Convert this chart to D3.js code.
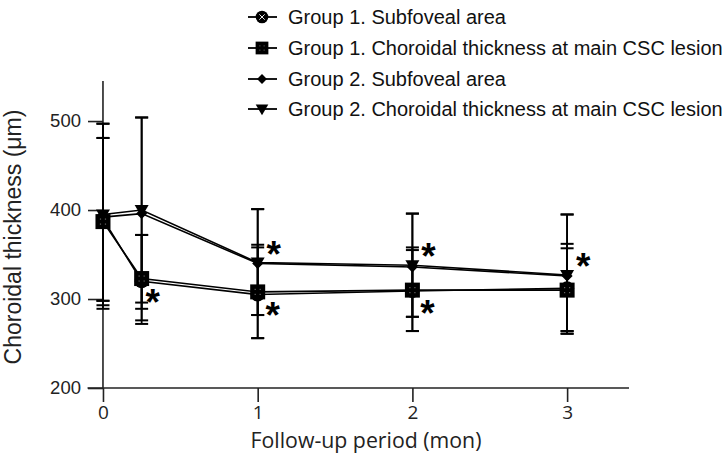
<!DOCTYPE html>
<html>
<head>
<meta charset="utf-8">
<script src="https://cdn.jsdelivr.net/npm/d3@7"></script>
<style>
  html, body { margin: 0; padding: 0; background: #fff; }
  svg { display: block; }
</style>
</head>
<body>
<div id="chart"></div>
<script>
// ---------- data ----------
const xVals = [0, 0.25, 1, 2, 3];
const xTickValues = [0, 1, 2, 3];
const yTickValues = [200, 300, 400, 500];

const seriesNames = [
  "Group 1. Subfoveal area",
  "Group 1. Choroidal thickness at main CSC lesion",
  "Group 2. Subfoveal area",
  "Group 2. Choroidal thickness at main CSC lesion"
];
const g1Subfoveal      = [390, 320, 305, 309, 312];
const g1SubfovealUpper = [481, 372, 361, 355, 362];
const g1SubfovealLower = [298, 276, 256, 264, 264];

const g1Lesion      = [387, 323, 308, 310, 310];
const g1LesionUpper = [481, 372, 358, 358, 357];
const g1LesionLower = [298, 272, 256, 264, 261];

const g2Subfoveal      = [392, 396, 340, 336, 326];
const g2SubfovealUpper = [497, 504, 401, 396, 395];
const g2SubfovealLower = [289, 289, 282, 280, 261];

const g2Lesion      = [395, 400, 341, 338, 327];
const g2LesionUpper = [497, 504, 401, 396, 395];
const g2LesionLower = [293, 296, 282, 280, 264];

// significance marks (x positions) for group 1 (below) and group 2 (above)
const asteriskGroup1 = [0.25, 1, 2];
const asteriskGroup2 = [1, 2, 3];

const xLabel = "Follow-up period (mon)";
const yLabel = "Choroidal thickness (μm)";

// ---------- layout ----------
const W = 728, H = 461;
const svg = d3.select("#chart").append("svg").attr("width", W).attr("height", H);

const x = d3.scaleLinear().domain([-0.1, 3.4]).range([87.5, 629]);
const y = d3.scaleLinear().domain([200, 545]).range([388, 81]);

const series = [
  { name: seriesNames[0], mean: g1Subfoveal, up: g1SubfovealUpper, lo: g1SubfovealLower, marker: "circleX" },
  { name: seriesNames[1], mean: g1Lesion, up: g1LesionUpper, lo: g1LesionLower, marker: "squareDots" },
  { name: seriesNames[2], mean: g2Subfoveal, up: g2SubfovealUpper, lo: g2SubfovealLower, marker: "diamond" },
  { name: seriesNames[3], mean: g2Lesion, up: g2LesionUpper, lo: g2LesionLower, marker: "triangleDown" }
];

// ---------- axes ----------
const xAxis = d3.axisBottom(x).tickValues(xTickValues).tickSize(14).tickPadding(4).tickFormat(d3.format("d"));
const gx = svg.append("g").attr("transform", `translate(0,${y(200)})`).call(xAxis);
gx.select(".domain").attr("d", `M${x.range()[0]},0H${x.range()[1]}`).attr("stroke", "#222").attr("stroke-width", 1.6);
gx.selectAll(".tick line").attr("stroke", "#222").attr("stroke-width", 1.6);
gx.selectAll(".tick text").attr("font-family", "'Open Sans', sans-serif").attr("font-size", 19).attr("fill", "#222");

const yAxis = d3.axisLeft(y).tickValues(yTickValues).tickSize(15).tickPadding(7);
const gy = svg.append("g").attr("transform", `translate(${x(0)},0)`).call(yAxis);
gy.select(".domain").attr("d", `M0,${y.range()[0]}V${y.range()[1]}`).attr("stroke", "#222").attr("stroke-width", 1.6);
gy.selectAll(".tick line").attr("stroke", "#222").attr("stroke-width", 1.6);
gy.selectAll(".tick text").attr("font-family", "'Liberation Sans', Arial, sans-serif").attr("font-size", 18.5).attr("fill", "#222");

svg.append("text")
  .attr("x", 366).attr("y", 448)
  .attr("text-anchor", "middle")
  .attr("font-family", "'Open Sans', sans-serif").attr("font-size", 21.3).attr("fill", "#222")
  .text(xLabel);

svg.append("text")
  .attr("transform", `translate(21,237) rotate(-90)`)
  .attr("text-anchor", "middle")
  .attr("font-family", "'Liberation Sans', Arial, sans-serif").attr("font-size", 23).attr("fill", "#222")
  .text(yLabel);

// ---------- markers ----------
function drawMarker(g, type, cx, cy, scale) {
  const s = scale || 1;
  const m = g.append("g").attr("transform", `translate(${cx},${cy}) scale(${s})`);
  if (type === "circleX") {
    m.append("circle").attr("r", 7).attr("fill", "#000");
    m.append("path").attr("d", "M-3,-3L3,3M-3,3L3,-3").attr("stroke", "#fff").attr("stroke-width", 1);
  } else if (type === "squareDots") {
    m.append("rect").attr("x", -7.5).attr("y", -7.5).attr("width", 15).attr("height", 15).attr("fill", "#000");
    [[-2.5,-2.5],[2.5,-2.5],[-2.5,2.5],[2.5,2.5]].forEach(p =>
      m.append("rect").attr("x", p[0]-0.6).attr("y", p[1]-0.6).attr("width", 1.2).attr("height", 1.2).attr("fill", "#666"));
  } else if (type === "diamond") {
    m.append("path").attr("d", "M0,-5.5L5.5,0L0,5.5L-5.5,0Z").attr("fill", "#000");
  } else if (type === "triangleDown") {
    m.append("path").attr("d", "M-7,-5L7,-5L0,7Z").attr("fill", "#000");
  }
}

const plot = svg.append("g");
const line = d3.line().x((d, i) => x(xVals[i])).y(d => y(d));

// lines
series.forEach(s => {
  plot.append("path").attr("d", line(s.mean)).attr("fill", "none")
    .attr("stroke", "#000").attr("stroke-width", 1.6);
});

// error bars
const capHalf = 6.5;
series.forEach(s => {
  xVals.forEach((xv, i) => {
    const cx = x(xv);
    plot.append("line").attr("x1", cx).attr("x2", cx).attr("y1", y(s.lo[i])).attr("y2", y(s.up[i]))
      .attr("stroke", "#000").attr("stroke-width", 1.8);
    [s.lo[i], s.up[i]].forEach(v => {
      plot.append("line").attr("x1", cx - capHalf).attr("x2", cx + capHalf).attr("y1", y(v)).attr("y2", y(v))
        .attr("stroke", "#000").attr("stroke-width", 2);
    });
  });
});

// markers (draw group 2 first, then group 1)
[series[3], series[2], series[0], series[1]].forEach(s => {
  xVals.forEach((xv, i) => drawMarker(plot, s.marker, x(xv), y(s.mean[i]), 1));
});

// asterisks
function asterisk(cx, cy) {
  svg.append("text").attr("x", cx).attr("y", cy + 21)
    .attr("text-anchor", "middle")
    .attr("font-family", "'Liberation Sans', Arial, sans-serif").attr("font-weight", "bold")
    .attr("font-size", 37).attr("fill", "#000").text("*");
}
asteriskGroup1.forEach(xv => {
  const i = xVals.indexOf(xv);
  const dx = xv < 0.5 ? 11 : 15;
  asterisk(x(xv) + dx, y(Math.max(g1Subfoveal[i], g1Lesion[i])) + 15);
});
asteriskGroup2.forEach(xv => {
  const i = xVals.indexOf(xv);
  asterisk(x(xv) + 16, y(Math.max(g2Subfoveal[i], g2Lesion[i])) - 17);
});

// ---------- legend ----------
const legend = svg.append("g");
const legendY = [17, 48, 79, 109];
series.forEach((s, i) => {
  const ly = legendY[i];
  legend.append("line").attr("x1", 248).attr("x2", 277).attr("y1", ly).attr("y2", ly)
    .attr("stroke", "#000").attr("stroke-width", 1.8);
  drawMarker(legend, s.marker, 262, ly, s.marker === "squareDots" ? 0.85 : 0.9);
  legend.append("text").attr("x", 288).attr("y", ly + 7)
    .attr("font-family", "'Liberation Sans', Arial, sans-serif").attr("font-size", 20).attr("fill", "#111")
    .text(s.name);
});
</script>
</body>
</html>
